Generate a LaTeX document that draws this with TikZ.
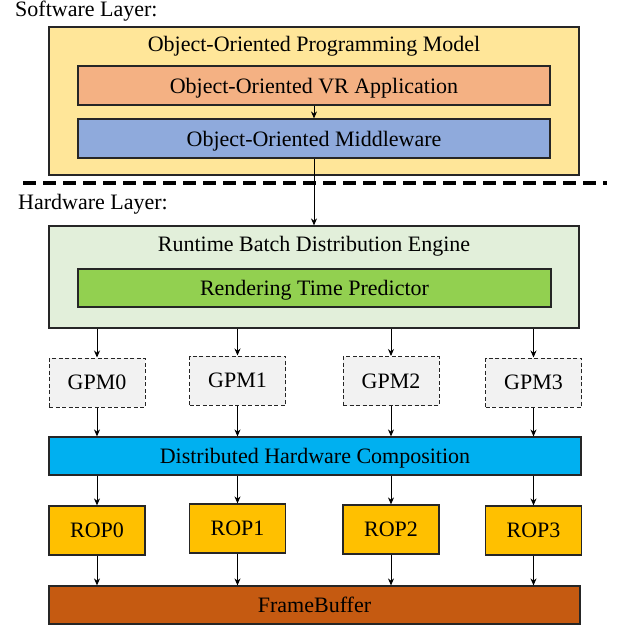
\documentclass[tikz,border=0pt]{standalone}
\usepackage{fontspec}
\setmainfont{Liberation Serif}
\usetikzlibrary{arrows.meta}
\definecolor{cyellow}{HTML}{FFE699}
\definecolor{csalmon}{HTML}{F4B183}
\definecolor{cblue}{HTML}{8FAADC}
\definecolor{clgreen}{HTML}{E2EFDA}
\definecolor{cgreen}{HTML}{92D050}
\definecolor{cgray}{HTML}{F2F2F2}
\definecolor{ccyan}{HTML}{00B0F0}
\definecolor{corange}{HTML}{FFC000}
\definecolor{cbrown}{HTML}{C55A11}
\tikzset{
  box/.style={draw=black!85, line width=1.2pt, rectangle, inner sep=0pt, text depth=0pt, font=\fontsize{22}{26}\selectfont},
  gpmbox/.style={box, fill=cgray, dash pattern=on 4pt off 2.5pt, line width=1pt, minimum width=96pt, minimum height=49pt},
  ropbox/.style={box, fill=corange, minimum width=96pt, minimum height=49pt},
  lbl/.style={inner sep=0pt, font=\fontsize{22}{26}\selectfont},
  arr/.style={-{Stealth[length=7pt,width=6pt]}, line width=0.9pt, black}
}
\begin{document}
\begin{tikzpicture}[x=1pt,y=-1pt]
\useasboundingbox (0,0) rectangle (618,627);
% software layer
\node[lbl, anchor=west] (swl) at (15,11) {Software Layer:};
\node[box, fill=cyellow, minimum width=530pt, minimum height=148pt] (oopm) at (314,101) {};
\node[lbl] (oopmt) at (314,46) {Object-Oriented Programming Model};
\node[box, fill=csalmon, minimum width=472pt, minimum height=39pt] (vr) at (314,85.5) {Object-Oriented VR Application};
\node[box, fill=cblue, minimum width=472pt, minimum height=39pt] (mw) at (314,138.5) {Object-Oriented Middleware};
% divider
\coordinate (dl) at (23,183);
\coordinate (dr) at (607,183);
\draw[line width=4pt, dash pattern=on 13pt off 7pt] (dl) -- (dr);
\node[lbl, anchor=west] (hwl) at (18,204) {Hardware Layer:};
% runtime engine
\node[box, fill=clgreen, minimum width=530pt, minimum height=102pt] (rt) at (314,277) {};
\node[lbl] (rtt) at (314,246) {Runtime Batch Distribution Engine};
\node[box, fill=cgreen, minimum width=473pt, minimum height=38pt] (rtp) at (314.5,288) {Rendering Time Predictor};
% GPMs
\node[gpmbox] (g0) at (97,382.5) {GPM0};
\node[gpmbox] (g1) at (237.5,380.5) {GPM1};
\node[gpmbox] (g2) at (391,381) {GPM2};
\node[gpmbox] (g3) at (533.5,382.5) {GPM3};
% composition
\node[box, fill=ccyan, minimum width=532pt, minimum height=38pt] (dhc) at (315,456) {Distributed Hardware Composition};
% ROPs
\node[ropbox] (r0) at (97,530.5) {ROP0};
\node[ropbox] (r1) at (237.5,528.5) {ROP1};
\node[ropbox] (r2) at (391,529.5) {ROP2};
\node[ropbox] (r3) at (533.5,530.5) {ROP3};
% framebuffer
\node[box, fill=cbrown, minimum width=531pt, minimum height=38pt] (fb) at (314.5,605) {FrameBuffer};
% arrows
\draw[arr] (vr.south) -- (mw.north);
\draw[arr] (mw.south) -- (rt.north);
\foreach \g/\r in {g0/r0,g1/r1,g2/r2,g3/r3}{
  \draw[arr] (\g |- rt.south) -- (\g.north);
  \draw[arr] (\g.south) -- (\g |- dhc.north);
  \draw[arr] (\r |- dhc.south) -- (\r.north);
  \draw[arr] (\r.south) -- (\r |- fb.north);
}
\end{tikzpicture}
\end{document}
